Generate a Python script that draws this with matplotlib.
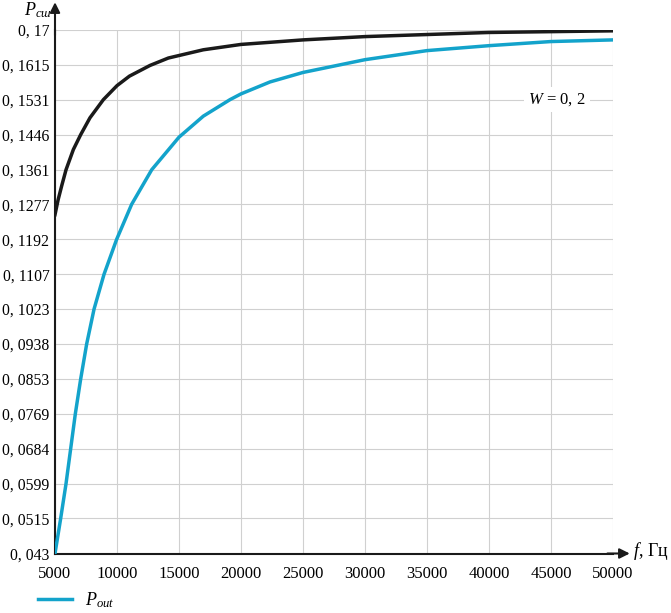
import matplotlib
matplotlib.use("Agg")
from matplotlib import pyplot as plt

# шрифт как в оригинале (Times-подобный)
plt.rcParams['font.family'] = ['Liberation Serif', 'DejaVu Serif']
plt.rcParams['mathtext.fontset'] = 'custom'
plt.rcParams['mathtext.rm'] = 'Liberation Serif'
plt.rcParams['mathtext.it'] = 'Liberation Serif:italic'

# данные
f_black = [5000, 5250, 5540, 5890, 6480, 7070, 7820, 8900, 10000, 11000, 12660,
           14140, 16960, 20000, 25000, 30000, 35000, 40000, 45000, 50000]
p_black = [0.1252, 0.1288, 0.1322, 0.1361, 0.1410, 0.1446, 0.1487, 0.1531, 0.1565,
           0.1588, 0.1614, 0.1632, 0.1652, 0.1665, 0.1676, 0.1684, 0.1689, 0.1694,
           0.1696, 0.1698]

f_out = [5000, 5457, 5887, 6263, 6640, 7069, 7552, 8150, 8950, 9970, 11180, 12800,
         15000, 16960, 19110, 20000, 22340, 25000, 30000, 35000, 40000, 45000, 50000]
p_out = [0.043, 0.0515, 0.0599, 0.0684, 0.0769, 0.0853, 0.0938, 0.1023, 0.1107,
         0.1192, 0.1277, 0.1361, 0.1440, 0.1491, 0.1531, 0.1545, 0.1574, 0.1597,
         0.1628, 0.1650, 0.1662, 0.1672, 0.1676]

yticks = [0.043, 0.0515, 0.0599, 0.0684, 0.0769, 0.0853, 0.0938, 0.1023, 0.1107,
          0.1192, 0.1277, 0.1361, 0.1446, 0.1531, 0.1615, 0.17]
ytick_labels = ['0, 043', '0, 0515', '0, 0599', '0, 0684', '0, 0769', '0, 0853',
                '0, 0938', '0, 1023', '0, 1107', '0, 1192', '0, 1277', '0, 1361',
                '0, 1446', '0, 1531', '0, 1615', '0, 17']
xticks = [5000, 10000, 15000, 20000, 25000, 30000, 35000, 40000, 45000, 50000]

fig = plt.figure(figsize=(6.71, 6.13), dpi=100)
ax = fig.add_axes([55/671, 59.5/613, 558/671, 523.5/613])

ax.plot(f_black, p_black, color='#1a1a1a', lw=2.5, zorder=3, solid_joinstyle='round')
ax.plot(f_out, p_out, color='#13a3cb', lw=2.5, zorder=3, solid_joinstyle='round',
        label='$P_{out}$')

ax.set_xlim(5000, 50000)
ax.set_ylim(0.043, 0.17)
ax.set_xticks(xticks)
ax.set_yticks(yticks)
ax.set_yticklabels(ytick_labels)
ax.tick_params(axis='both', length=0)
ax.tick_params(axis='x', pad=9, labelsize=12)
ax.tick_params(axis='y', pad=4, labelsize=11.3)

ax.grid(color='#d0d0d0', lw=0.8)
for s in ['top', 'right']:
    ax.spines[s].set_visible(False)
for s in ['left', 'bottom']:
    ax.spines[s].set_linewidth(1.5)
    ax.spines[s].set_color('#1a1a1a')

# стрелки осей
ax.annotate('', xy=(0, 1.053), xytext=(0, 0.99), xycoords='axes fraction',
            arrowprops=dict(arrowstyle='-|>', color='#1a1a1a', lw=1.5,
                            mutation_scale=15, shrinkA=0, shrinkB=0))
ax.annotate('', xy=(1.03, 0), xytext=(0.99, 0), xycoords='axes fraction',
            arrowprops=dict(arrowstyle='-|>', color='#1a1a1a', lw=1.5,
                            mutation_scale=15, shrinkA=0, shrinkB=0))

fig.text(24/671, 1 - 10/613, '$P_{сш}$', fontsize=13, ha='left', va='center')
fig.text(633/671, 1 - 551/613, '$f$, Гц', fontsize=13, ha='left', va='center')

ax.text(45500, 0.1531, '$W$ = 0, 2', fontsize=12, ha='center',
        va='center', bbox=dict(facecolor='white', edgecolor='none', pad=3), zorder=4)

ax.legend(loc='center left', bbox_to_anchor=(25/671, 1 - 600/613),
          bbox_transform=fig.transFigure, frameon=False, fontsize=13,
          handlelength=1.9, handletextpad=0.7, borderpad=0.2)

plt.savefig('out.png', dpi=100)
